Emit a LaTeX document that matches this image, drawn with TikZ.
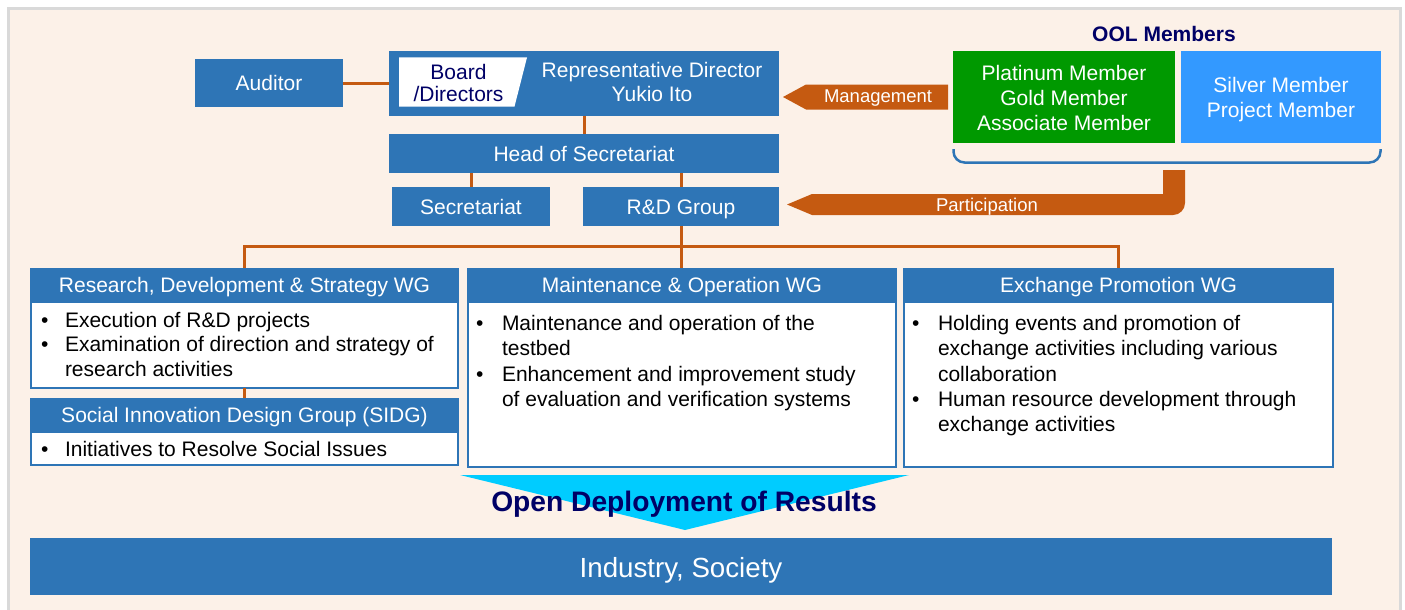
\documentclass[tikz,border=0pt]{standalone}
\usepackage{fontspec}
\setmainfont{Liberation Sans}
\usetikzlibrary{calc}
\definecolor{bgc}{HTML}{FCF1E8}
\definecolor{boxblue}{HTML}{2E75B6}
\definecolor{conn}{HTML}{C55A11}
\definecolor{memgreen}{HTML}{009900}
\definecolor{memblue}{HTML}{3399FF}
\definecolor{arrcyan}{HTML}{00CCFF}
\definecolor{navy}{HTML}{000066}
\definecolor{framegray}{HTML}{D9D9D9}
\newcommand{\wgitem}[5]{%
  \node[bul] (#1b) at (#2,#4) {\rule{0pt}{16pt}•};
  \node[itemtext] (#1) at (#3,#4) {\rule{0pt}{16pt}#5};}
\begin{document}
\begin{tikzpicture}[x=1pt,y=-1pt,
  base/.style={inner sep=0pt, outer sep=0pt},
  f21/.style={font=\fontsize{21}{25}\selectfont, text height=15pt, text depth=0pt},
  bluebox/.style={base, f21, fill=boxblue, text=white},
  bodybox/.style={base, draw=boxblue, line width=2pt, fill=white},
  conline/.style={draw=conn, line width=3pt},
  bul/.style={base, anchor=north west, font=\fontsize{21}{25}\selectfont},
  itemtext/.style={base, anchor=north west, align=left, font=\fontsize{21}{25.25}\selectfont},
  multitext/.style={base, anchor=north, align=center},
  arrowtext/.style={base, text=white, font=\fontsize{18.5}{20}\selectfont, text height=13.2pt, text depth=0pt},
]
\useasboundingbox (0,0) rectangle (1405,610);
% frame
\fill[white] (0,0) rectangle (1405,610);
\fill[bgc] (8,8) rectangle (1401,610);
\draw[framegray, line width=3pt] (8.5,611) -- (8.5,8.5) -- (1400,8.5) -- (1400,611);

% top boxes
\node[bluebox, minimum width=148pt, minimum height=47pt] (aud) at (269,83) {Auditor};
\node[bluebox, minimum width=390pt, minimum height=64pt] (dir) at (584,83.5) {};
\fill[white] (399,57.5) -- (527,57.5) -- (514.5,106.5) -- (399,106.5) -- cycle;
\node[multitext, text=navy, font=\fontsize{21}{21.5}\selectfont] (board) at (458.5,63.5) {\rule{0pt}{16pt}Board\\/Directors};
\node[multitext, text=white, font=\fontsize{21}{24}\selectfont] (dirtext) at (652,61.8) {\rule{0pt}{16pt}Representative Director\\Yukio Ito};
\node[bluebox, minimum width=390pt, minimum height=38.5pt] (head) at (584,153.5) {Head of Secretariat};
\node[bluebox, minimum width=158pt, minimum height=38.5pt] (sec) at (471,206.5) {Secretariat};
\node[bluebox, minimum width=196pt, minimum height=38.5pt] (rd) at (681,206.5) {R\&D Group};

% members
\node[base, text=navy, font=\fontsize{21}{25}\bfseries, text height=15pt, text depth=0pt] (ool) at (1164,33.8) {OOL Members};
\node[base, fill=memgreen, minimum width=222pt, minimum height=92pt] (green) at (1064,97) {};
\node[multitext, text=white, font=\fontsize{21}{25}\selectfont] (greentext) at (1064,64) {\rule{0pt}{16pt}Platinum Member\\Gold Member\\Associate Member};
\node[base, fill=memblue, minimum width=200pt, minimum height=92pt] (lblue) at (1281,97) {};
\node[multitext, text=white, font=\fontsize{21}{25}\selectfont] (lbluetext) at (1281,76.5) {\rule{0pt}{16pt}Silver Member\\Project Member};
\draw[boxblue, line width=2.5pt, rounded corners=11pt] (953.5,149) -- (953.5,162.5) -- (1380.5,162.5) -- (1380.5,149);

% management arrow
\fill[conn] (948,84.5) -- (806,84.5) -- (783,97) -- (806,109.5) -- (948,109.5) -- cycle;
\node[arrowtext] (mgmt) at (878,96.2) {Management};
% participation arrow
\fill[conn] (1163,170) -- (1185,170) -- (1185,203) arc[start angle=0, end angle=90, radius=12] -- (812,215) -- (787,204.5) -- (812,194) -- (1163,194) -- cycle;
\node[arrowtext] (part) at (987,205.3) {Participation};

% working groups
\node[bodybox, minimum width=427pt, minimum height=86pt] (rdsbody) at (244.5,345) {};
\node[bluebox, minimum width=429pt, minimum height=34pt] (rds) at (244.5,285) {Research, Development \& Strategy WG};
\node[bodybox, minimum width=427pt, minimum height=33pt] (sidgbody) at (244.5,448.5) {};
\node[bluebox, minimum width=429pt, minimum height=34pt] (sidg) at (244.5,415) {Social Innovation Design Group (SIDG)};
\node[bodybox, minimum width=428pt, minimum height=165pt] (mobody) at (682,384.5) {};
\node[bluebox, minimum width=430pt, minimum height=34pt] (mo) at (682,285) {Maintenance \& Operation WG};
\node[bodybox, minimum width=429pt, minimum height=165pt] (exbody) at (1118.5,384.5) {};
\node[bluebox, minimum width=431pt, minimum height=34pt] (ex) at (1118.5,285) {Exchange Promotion WG};

\wgitem{rdsa}{41}{65}{311.3}{Execution of R\&D projects}
\wgitem{rdsc}{41}{65}{335.7}{Examination of direction and strategy of\\research activities}
\wgitem{sidga}{41}{65}{440.7}{Initiatives to Resolve Social Issues}
\wgitem{moa}{476}{502}{314.7}{Maintenance and operation of the\\testbed}
\wgitem{moc}{476}{502}{365.5}{Enhancement and improvement study\\of evaluation and verification systems}
\wgitem{exa}{912}{938}{314.7}{Holding events and promotion of\\exchange activities including various\\collaboration}
\wgitem{exc}{912}{938}{390.5}{Human resource development through\\exchange activities}

% connectors
\coordinate (bus) at (682,246);
\draw[conline] (aud.east) -- (aud.east -| dir.west);
\draw[conline] (dir.south) -- (head.north);
\draw[conline] (sec.north) -- (sec.north |- head.south);
\draw[conline] (rd.north) -- (rd.north |- head.south);
\draw[conline] (rd.south) -- (rd.south |- mo.north);
\draw[conline] (rds.north) -- (rds.north |- bus) -- (ex.north |- bus) -- (ex.north);
\draw[conline] (rdsbody.south) -- (sidg.north);

% deployment
\fill[arrcyan] (460,475) -- (909,475) -- (685,530) -- cycle;
\node[base, text=navy, font=\fontsize{28.2}{30}\bfseries, text height=20.2pt, text depth=0pt] (odr) at (684,501.7) {Open Deployment of Results};
\node[base, fill=boxblue, text=white, font=\fontsize{27.7}{30}\selectfont, text height=19.8pt, text depth=0pt, minimum width=1302pt, minimum height=57pt] (ind) at (681,566.5) {};
\node[base, text=white, font=\fontsize{27.7}{30}\selectfont, text height=19.8pt, text depth=0pt] (indtext) at (681,568) {Industry, Society};
\end{tikzpicture}
\end{document}
